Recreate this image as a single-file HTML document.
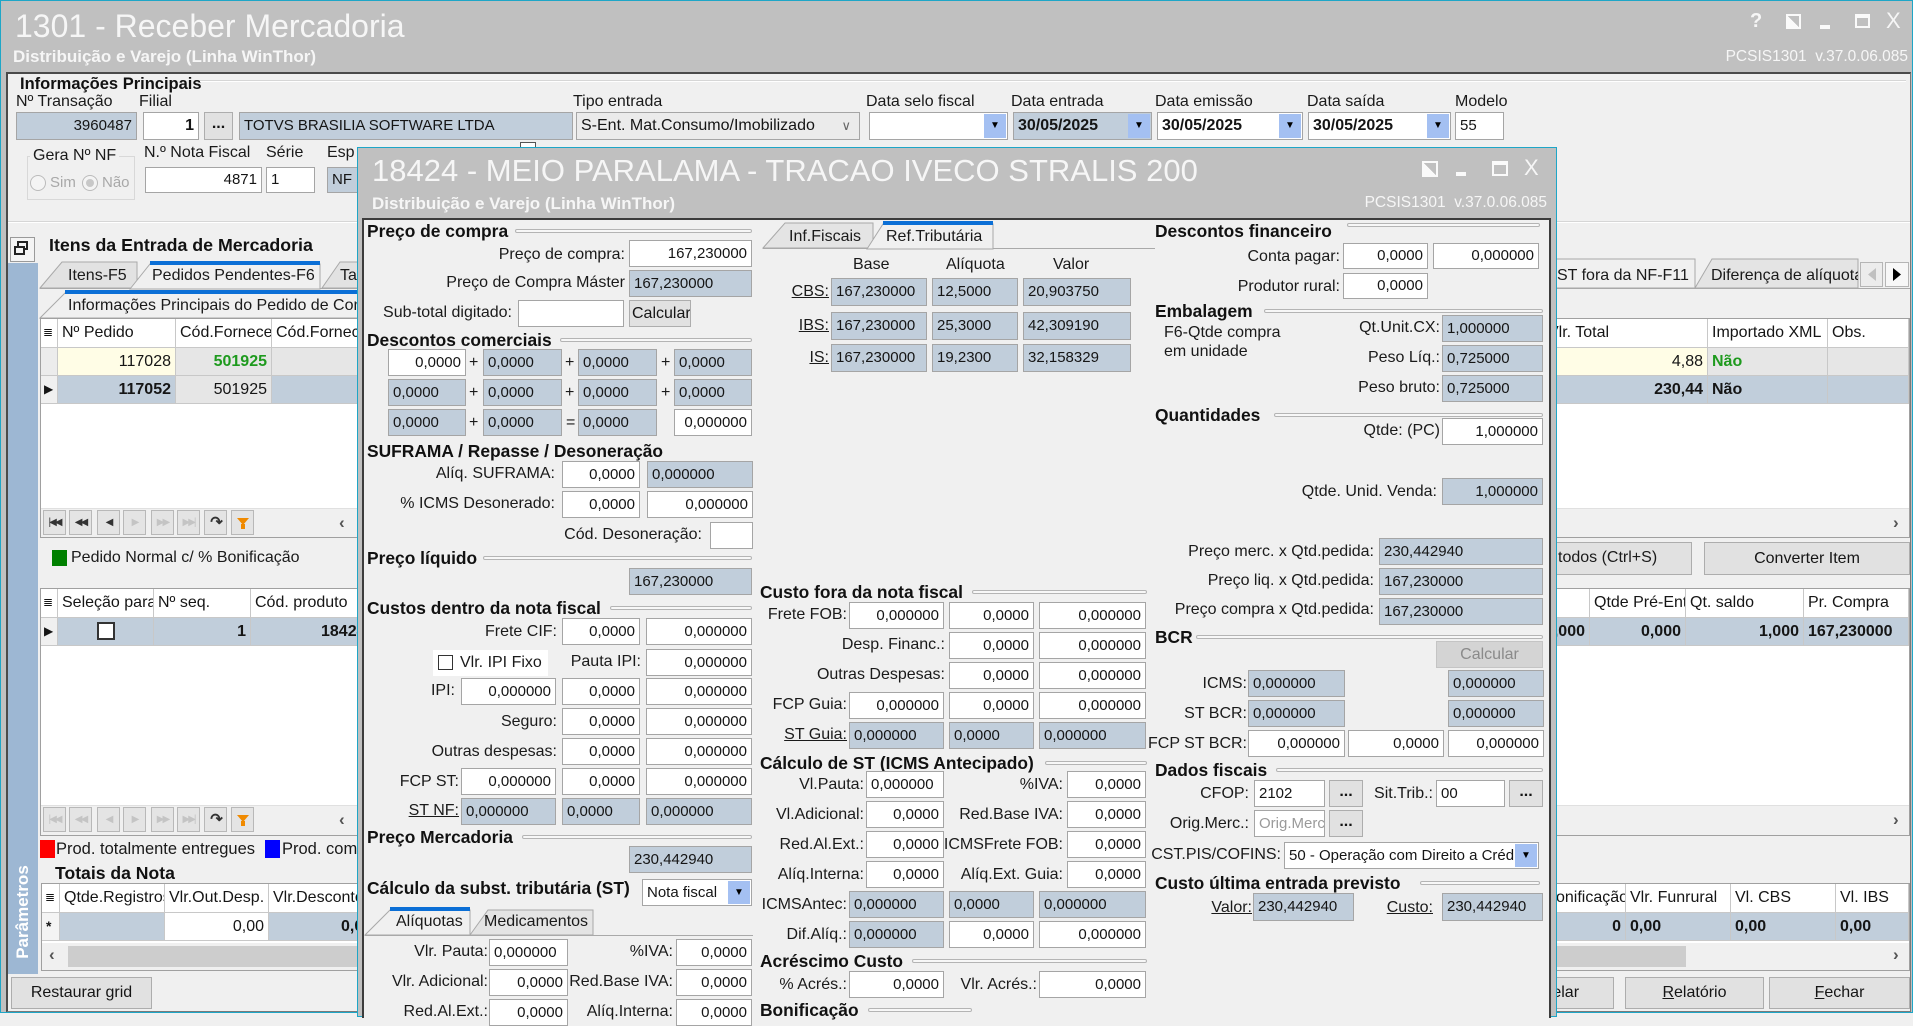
<!DOCTYPE html>
<html><head><meta charset="utf-8">
<style>
*{box-sizing:border-box}
body{margin:0;width:1913px;height:1013px;overflow:hidden;position:relative;background:#f0f0f0;font-family:"Liberation Sans",Arial,sans-serif;color:#151515}
.a{position:absolute}
.t{position:absolute;white-space:nowrap;font-size:16px;line-height:18px;color:#1a1a1a}
.h{position:absolute;white-space:nowrap;font-size:17.4px;font-weight:bold;line-height:18px;color:#111}
.gl{position:absolute;height:4px;border:1px solid #b4b4b4;border-radius:2px;background:#f7f7f7}
.f{position:absolute;height:27px;line-height:25px;border:1px solid #a5a5a5;background:#fff;font-size:15px;padding:0 4px;white-space:nowrap;overflow:hidden;text-align:right;color:#151515}
.b{background:#c1cedb;text-align:left}
.btn{position:absolute;border:1px solid #adadad;background:#e1e1e1;text-align:center;font-size:16px;white-space:nowrap;overflow:hidden;color:#151515}
.u{text-decoration:underline}
.dd{position:absolute;top:1px;bottom:1px;right:1px;width:22px;background:#a4c0f2;font-size:10px;line-height:24px;text-align:center;color:#000}
.cell{position:absolute;border-right:1px solid #c8c8c8;border-bottom:1px solid #c8c8c8;font-size:16px;white-space:nowrap;overflow:hidden;padding:0 4px}
.nb{position:absolute;width:23px;height:25px;border:1px solid #b8b8b8;background:#e4e4e4;font-size:10px;line-height:23px;text-align:center;color:#333;letter-spacing:-2px}
.nb.d{color:#c4c4c4}
.wt{color:#f6f6f6}
.ml{position:absolute;white-space:nowrap;font-size:16px;line-height:18px;color:#1a1a1a}
</style></head><body>

<!-- MAIN WINDOW -->
<div class="a" style="left:0;top:0;width:1913px;height:1013px;border:1px solid #1ea6c7;background:#c0c0c0"></div>
<div class="a wt" style="left:15px;top:8px;font-size:32px;line-height:36px;white-space:nowrap">1301 - Receber Mercadoria</div>
<div class="a wt" style="left:13px;top:47px;font-size:17px;font-weight:bold;line-height:19px;white-space:nowrap">Distribuição e Varejo (Linha WinThor)</div>
<div class="a wt" style="left:1750px;top:10px;font-size:20px;font-weight:bold">?</div>
<div class="a" style="left:1786px;top:14px;width:15px;height:15px;border:2px solid #fafafa;background:linear-gradient(to top right,#fafafa 50%,transparent 50%)"></div>
<div class="a" style="left:1820px;top:25px;width:10px;height:4px;background:#fafafa"></div>
<div class="a" style="left:1855px;top:14px;width:15px;height:14px;border:2px solid #fafafa;border-top-width:4px"></div>
<div class="a wt" style="left:1886px;top:8px;font-size:22px">X</div>
<div class="a wt" style="right:5px;top:48px;font-size:15.5px;line-height:17px;white-space:nowrap">PCSIS1301&nbsp; v.37.0.06.085</div>

<div class="a" style="left:6px;top:72px;width:1905px;height:940px;background:#f0f0f0;border-top:2px solid #4a4a4a;border-left:2px solid #4a4a4a;border-right:1px solid #7a7a7a;border-bottom:1px solid #7a7a7a"></div>

<!-- Informações principais -->
<div class="h" style="left:20px;top:75px;font-size:16.5px">Informações Principais</div>
<div class="a" style="left:200px;top:80px;width:1706px;height:2px;border-top:1px solid #d6d6d6;border-bottom:1px solid #fff"></div>
<div class="ml" style="left:16px;top:93px">Nº Transação</div>
<div class="ml" style="left:139px;top:93px">Filial</div>
<div class="ml" style="left:573px;top:93px">Tipo entrada</div>
<div class="ml" style="left:866px;top:93px">Data selo fiscal</div>
<div class="ml" style="left:1011px;top:93px">Data entrada</div>
<div class="ml" style="left:1155px;top:93px">Data emissão</div>
<div class="ml" style="left:1307px;top:93px">Data saída</div>
<div class="ml" style="left:1455px;top:93px">Modelo</div>

<div class="f b" style="left:16px;top:112px;width:121px;height:28px;line-height:26px;text-align:right">3960487</div>
<div class="f" style="left:143px;top:112px;width:56px;height:28px;line-height:26px;font-weight:bold;font-size:16px">1</div>
<div class="btn" style="left:204px;top:112px;width:29px;height:28px;line-height:22px;font-weight:bold">...</div>
<div class="f b" style="left:239px;top:112px;width:334px;height:28px;line-height:26px">TOTVS BRASILIA SOFTWARE LTDA</div>
<div class="f" style="left:576px;top:112px;width:284px;height:28px;line-height:26px;text-align:left;background:#ebebeb;font-size:16px">S-Ent. Mat.Consumo/Imobilizado<span class="a" style="right:8px;top:0;color:#666;font-size:13px">∨</span></div>
<div class="f" style="left:869px;top:112px;width:139px;height:28px"><div class="dd">▼</div></div>
<div class="f b" style="left:1013px;top:112px;width:139px;height:28px;line-height:26px;font-weight:bold;font-size:16px">30/05/2025<div class="dd">▼</div></div>
<div class="f" style="left:1157px;top:112px;width:146px;height:28px;line-height:26px;font-weight:bold;font-size:16px;text-align:left">30/05/2025<div class="dd">▼</div></div>
<div class="f" style="left:1308px;top:112px;width:143px;height:28px;line-height:26px;font-weight:bold;font-size:16px;text-align:left">30/05/2025<div class="dd">▼</div></div>
<div class="f" style="left:1455px;top:112px;width:49px;height:28px;line-height:26px;text-align:left">55</div>

<div class="a" style="left:27px;top:156px;width:108px;height:44px;border:1px solid #d8d8d8"></div>
<div class="ml" style="left:30px;top:147px;background:#f0f0f0;padding:0 3px">Gera Nº NF</div>
<div class="a" style="left:30px;top:175px;width:16px;height:16px;border:1px solid #bbb;border-radius:50%;background:#f4f4f4"></div>
<div class="t" style="left:50px;top:174px;font-size:15px;color:#a8a8a8">Sim</div>
<div class="a" style="left:82px;top:175px;width:16px;height:16px;border:1px solid #bbb;border-radius:50%;background:#f4f4f4"></div>
<div class="a" style="left:86px;top:179px;width:8px;height:8px;border-radius:50%;background:#c8c8c8"></div>
<div class="t" style="left:102px;top:174px;font-size:15px;color:#a8a8a8">Não</div>
<div class="ml" style="left:144px;top:144px">N.º Nota Fiscal</div>
<div class="ml" style="left:266px;top:144px">Série</div>
<div class="ml" style="left:327px;top:144px">Esp</div>
<div class="f" style="left:145px;top:167px;width:117px;height:26px;line-height:24px">4871</div>
<div class="f" style="left:266px;top:167px;width:49px;height:26px;line-height:24px;text-align:left">1</div>
<div class="f b" style="left:327px;top:167px;width:40px;height:26px;line-height:24px">NF</div>
<div class="a" style="left:520px;top:142px;width:16px;height:16px;border:1px solid #555;background:#fff"></div>

<div class="a" style="left:8px;top:221px;width:1902px;height:2px;border-top:1px solid #d6d6d6;border-bottom:1px solid #fff"></div>

<!-- Itens panel -->
<div class="a" style="left:10px;top:237px;width:25px;height:25px;border:1px solid #9a9a9a;background:#f4f4f4"></div>
<div class="a" style="left:17px;top:241px;width:11px;height:9px;border:2px solid #222"></div>
<div class="a" style="left:14px;top:246px;width:11px;height:9px;border:2px solid #222;background:#f4f4f4"></div>
<div class="h" style="left:49px;top:236px;font-size:17.8px">Itens da Entrada de Mercadoria</div>
<div class="a" style="left:8px;top:263px;width:30px;height:711px;background:#9db7d3"></div>
<div class="a" style="left:23px;top:912px;transform:translate(-50%,-50%) rotate(-90deg);color:#fff;font-weight:bold;font-size:17px;white-space:nowrap">Parâmetros</div>

<svg class="a" style="left:0;top:0" width="1913" height="340">
 <line x1="40" y1="288.5" x2="1910" y2="288.5" stroke="#a9a9a9"/>
 <polygon points="40,288 62,262 137,262 137,288" fill="#e2e2e2" stroke="#a9a9a9"/>
 <polygon points="130,289 150,264 320,264 320,289" fill="#f0f0f0" stroke="#a9a9a9"/>
 <rect x="150" y="261" width="170" height="4" fill="#0b6fd6"/>
 <polygon points="322,288 340,262 362,262 362,288" fill="#e2e2e2" stroke="#a9a9a9"/>
 <polygon points="40,318 65,293 362,293 362,318" fill="#f0f0f0" stroke="#a9a9a9"/>
 <rect x="65" y="290" width="297" height="4" fill="#0b6fd6"/>
 <polygon points="1540,288 1540,259 1695,259 1695,288" fill="#f0f0f0" stroke="#a9a9a9"/>
 <polygon points="1695,288 1712,259 1858,259 1858,288" fill="#e4e4e4" stroke="#a9a9a9"/>
 <rect x="1860.5" y="262.5" width="22" height="24" fill="#ececec" stroke="#b5b5b5"/>
 <rect x="1885.5" y="262.5" width="23" height="24" fill="#f7f7f7" stroke="#b5b5b5"/>
 <polygon points="1876,268 1876,281 1868,274.5" fill="#c0c0c0"/>
 <polygon points="1893,268 1893,281 1901,274.5" fill="#000"/>
</svg>
<div class="t" style="left:68px;top:267px">Itens-F5</div>
<div class="t" style="left:152px;top:267px">Pedidos Pendentes-F6</div>
<div class="t" style="left:340px;top:267px">Tab</div>
<div class="t" style="left:1557px;top:267px">ST fora da NF-F11</div>
<div class="a" style="left:1705px;top:262px;width:153px;height:24px;overflow:hidden"><div class="t" style="left:6px;top:5px">Diferença de alíquota</div></div>
<div class="t" style="left:68px;top:297px">Informações Principais do Pedido de Compra</div>

<!-- GRID 1 -->
<div class="a" style="left:40px;top:318px;width:1870px;height:220px;border:1px solid #a0a0a0;background:#fff"></div>
<div class="cell" style="left:41px;top:319px;width:17px;height:29px;line-height:27px;font-size:12px;padding:0 2px">≣</div>
<div class="cell" style="left:58px;top:319px;width:118px;height:29px;line-height:27px">Nº Pedido</div>
<div class="cell" style="left:176px;top:319px;width:96px;height:29px;line-height:27px">Cód.Fornecedor</div>
<div class="cell" style="left:272px;top:319px;width:100px;height:29px;line-height:27px">Cód.Fornecedor</div>
<div class="cell" style="left:1400px;top:319px;width:308px;height:29px;line-height:27px;padding-left:148px">Vlr. Total</div>
<div class="cell" style="left:1708px;top:319px;width:120px;height:29px;line-height:27px">Importado XML</div>
<div class="cell" style="left:1828px;top:319px;width:81px;height:29px;line-height:27px">Obs.</div>

<div class="cell" style="left:41px;top:348px;width:17px;height:28px;background:#ececec"></div>
<div class="cell" style="left:58px;top:348px;width:118px;height:28px;line-height:27px;background:#fffde6;text-align:right">117028</div>
<div class="cell" style="left:176px;top:348px;width:96px;height:28px;line-height:27px;background:#e6e6e6;text-align:right;color:#1e9a1e;font-weight:bold">501925</div>
<div class="cell" style="left:272px;top:348px;width:1128px;height:28px;background:#e6e6e6"></div>
<div class="cell" style="left:1400px;top:348px;width:308px;height:28px;line-height:27px;background:#fffde6;text-align:right">4,88</div>
<div class="cell" style="left:1708px;top:348px;width:120px;height:28px;line-height:27px;background:#e6e6e6;color:#1e9a1e;font-weight:bold">Não</div>
<div class="cell" style="left:1828px;top:348px;width:81px;height:28px;background:#e6e6e6"></div>

<div class="cell" style="left:41px;top:376px;width:17px;height:28px;line-height:27px;background:#f0f0f0;font-size:12px;padding:0 3px">▶</div>
<div class="cell" style="left:58px;top:376px;width:118px;height:28px;line-height:27px;background:#c1cedb;text-align:right;font-weight:bold">117052</div>
<div class="cell" style="left:176px;top:376px;width:96px;height:28px;line-height:27px;background:#e6e6e6;text-align:right">501925</div>
<div class="cell" style="left:272px;top:376px;width:1128px;height:28px;background:#c1cedb"></div>
<div class="cell" style="left:1400px;top:376px;width:308px;height:28px;line-height:27px;background:#c1cedb;text-align:right;font-weight:bold">230,44</div>
<div class="cell" style="left:1708px;top:376px;width:120px;height:28px;line-height:27px;background:#c1cedb;font-weight:bold">Não</div>
<div class="cell" style="left:1828px;top:376px;width:81px;height:28px;background:#c1cedb"></div>

<div class="a" style="left:41px;top:508px;width:1868px;height:29px;background:#f0f0f0;border-top:1px solid #e0e0e0"></div>
<div class="nb" style="left:43px;top:510px">|◀◀</div>
<div class="nb" style="left:69px;top:510px">◀◀</div>
<div class="nb" style="left:97px;top:510px">◀</div>
<div class="nb d" style="left:123px;top:510px">▶</div>
<div class="nb d" style="left:151px;top:510px">▶▶</div>
<div class="nb d" style="left:177px;top:510px">▶▶|</div>
<div class="nb" style="left:204px;top:510px;font-size:15px;font-weight:bold">↷</div>
<div class="nb" style="left:231px;top:510px"><div class="a" style="left:5px;top:7px;width:0;height:0;border-left:6px solid transparent;border-right:6px solid transparent;border-top:7px solid #f08a00"></div><div class="a" style="left:9px;top:13px;width:4px;height:5px;background:#f08a00"></div></div>
<div class="t" style="left:339px;top:514px;font-size:17px;font-weight:bold;color:#555">‹</div>
<div class="t" style="left:1893px;top:514px;font-size:17px;font-weight:bold;color:#555">›</div>

<div class="a" style="left:52px;top:550px;width:15px;height:16px;background:#008000"></div>
<div class="t" style="left:71px;top:549px">Pedido Normal c/ % Bonificação</div>
<div class="btn" style="left:1420px;top:542px;width:272px;height:33px"></div>
<div class="t" style="left:1558px;top:549px">todos (Ctrl+S)</div>
<div class="btn" style="left:1704px;top:542px;width:206px;height:33px;line-height:31px">Converter Item</div>

<!-- GRID 2 -->
<div class="a" style="left:40px;top:588px;width:1870px;height:248px;border:1px solid #a0a0a0;background:#fff"></div>
<div class="cell" style="left:41px;top:589px;width:17px;height:29px;line-height:27px;font-size:12px;padding:0 2px">≣</div>
<div class="cell" style="left:58px;top:589px;width:96px;height:29px;line-height:27px">Seleção para</div>
<div class="cell" style="left:154px;top:589px;width:97px;height:29px;line-height:27px">Nº seq.</div>
<div class="cell" style="left:251px;top:589px;width:120px;height:29px;line-height:27px">Cód. produto</div>
<div class="cell" style="left:1500px;top:589px;width:90px;height:29px"></div>
<div class="cell" style="left:1590px;top:589px;width:96px;height:29px;line-height:27px">Qtde Pré-Entrada</div>
<div class="cell" style="left:1686px;top:589px;width:118px;height:29px;line-height:27px">Qt. saldo</div>
<div class="cell" style="left:1804px;top:589px;width:105px;height:29px;line-height:27px">Pr. Compra</div>

<div class="cell" style="left:41px;top:618px;width:17px;height:28px;line-height:27px;background:#f0f0f0;font-size:12px;padding:0 3px">▶</div>
<div class="cell" style="left:58px;top:618px;width:96px;height:28px;background:#c1cedb"></div>
<div class="a" style="left:97px;top:622px;width:18px;height:18px;border:2px solid #333;background:#fff"></div>
<div class="cell" style="left:154px;top:618px;width:97px;height:28px;line-height:27px;background:#c1cedb;text-align:right;font-weight:bold">1</div>
<div class="cell" style="left:251px;top:618px;width:160px;height:28px;line-height:27px;background:#c1cedb;font-weight:bold;padding-left:70px">18424</div>
<div class="cell" style="left:1400px;top:618px;width:190px;height:28px;line-height:27px;background:#c1cedb;text-align:right;font-weight:bold">1,000</div>
<div class="cell" style="left:1590px;top:618px;width:96px;height:28px;line-height:27px;background:#c1cedb;text-align:right;font-weight:bold">0,000</div>
<div class="cell" style="left:1686px;top:618px;width:118px;height:28px;line-height:27px;background:#c1cedb;text-align:right;font-weight:bold">1,000</div>
<div class="cell" style="left:1804px;top:618px;width:105px;height:28px;line-height:27px;background:#c1cedb;font-weight:bold">167,230000</div>

<div class="a" style="left:41px;top:805px;width:1868px;height:30px;background:#f0f0f0;border-top:1px solid #e0e0e0"></div>
<div class="nb d" style="left:43px;top:807px">|◀◀</div>
<div class="nb d" style="left:69px;top:807px">◀◀</div>
<div class="nb d" style="left:97px;top:807px">◀</div>
<div class="nb d" style="left:123px;top:807px">▶</div>
<div class="nb d" style="left:151px;top:807px">▶▶</div>
<div class="nb d" style="left:177px;top:807px">▶▶|</div>
<div class="nb" style="left:204px;top:807px;font-size:15px;font-weight:bold">↷</div>
<div class="nb" style="left:231px;top:807px"><div class="a" style="left:5px;top:7px;width:0;height:0;border-left:6px solid transparent;border-right:6px solid transparent;border-top:7px solid #f08a00"></div><div class="a" style="left:9px;top:13px;width:4px;height:5px;background:#f08a00"></div></div>
<div class="t" style="left:339px;top:811px;font-size:17px;font-weight:bold;color:#555">‹</div>
<div class="t" style="left:1893px;top:811px;font-size:17px;font-weight:bold;color:#555">›</div>

<div class="a" style="left:40px;top:840px;width:15px;height:18px;background:#ff0000"></div>
<div class="t" style="left:56px;top:840px;font-size:16.5px">Prod. totalmente entregues</div>
<div class="a" style="left:265px;top:840px;width:15px;height:18px;background:#0000ff"></div>
<div class="t" style="left:282px;top:840px;font-size:16.5px">Prod. com</div>
<div class="h" style="left:55px;top:864px;font-size:17.6px">Totais da Nota</div>

<!-- GRID 3 -->
<div class="a" style="left:41px;top:883px;width:1869px;height:88px;border:1px solid #a0a0a0;background:#fff"></div>
<div class="cell" style="left:42px;top:884px;width:18px;height:29px;line-height:27px;font-size:12px;padding:0 3px">≣</div>
<div class="cell" style="left:60px;top:884px;width:105px;height:29px;line-height:27px">Qtde.Registros</div>
<div class="cell" style="left:165px;top:884px;width:104px;height:29px;line-height:27px">Vlr.Out.Desp.</div>
<div class="cell" style="left:269px;top:884px;width:120px;height:29px;line-height:27px">Vlr.Desconto</div>
<div class="cell" style="left:1500px;top:884px;width:126px;height:29px;line-height:27px;padding-left:56px">onificação</div>
<div class="cell" style="left:1626px;top:884px;width:105px;height:29px;line-height:27px">Vlr. Funrural</div>
<div class="cell" style="left:1731px;top:884px;width:105px;height:29px;line-height:27px">Vl. CBS</div>
<div class="cell" style="left:1836px;top:884px;width:73px;height:29px;line-height:27px">Vl. IBS</div>
<div class="cell" style="left:42px;top:913px;width:18px;height:28px;line-height:27px;background:#f4f4f4;font-size:14px;padding:0 4px;font-weight:bold">*</div>
<div class="cell" style="left:60px;top:913px;width:105px;height:28px;background:#c1cedb"></div>
<div class="cell" style="left:165px;top:913px;width:104px;height:28px;line-height:27px;text-align:right">0,00</div>
<div class="cell" style="left:269px;top:913px;width:120px;height:28px;line-height:27px;background:#c1cedb;font-weight:bold;padding-left:72px">0,00</div>
<div class="cell" style="left:1500px;top:913px;width:126px;height:28px;line-height:27px;background:#c1cedb;font-weight:bold;text-align:right">0</div>
<div class="cell" style="left:1626px;top:913px;width:105px;height:28px;line-height:27px;background:#c1cedb;font-weight:bold">0,00</div>
<div class="cell" style="left:1731px;top:913px;width:105px;height:28px;line-height:27px;background:#c1cedb;font-weight:bold">0,00</div>
<div class="cell" style="left:1836px;top:913px;width:73px;height:28px;line-height:27px;background:#c1cedb;font-weight:bold">0,00</div>
<div class="a" style="left:42px;top:943px;width:1867px;height:27px;background:#f0f0f0"></div>
<div class="a" style="left:68px;top:946px;width:1618px;height:21px;background:#cdcdcd"></div>
<div class="t" style="left:49px;top:946px;font-size:17px;font-weight:bold;color:#555">‹</div>
<div class="t" style="left:1893px;top:946px;font-size:17px;font-weight:bold;color:#555">›</div>

<div class="btn" style="left:11px;top:977px;width:141px;height:32px;line-height:30px">Restaurar grid</div>
<div class="btn" style="left:1480px;top:977px;width:134px;height:32px;line-height:30px">Cancelar</div>
<div class="btn" style="left:1625px;top:977px;width:139px;height:32px;line-height:30px"><span class="u">R</span>elatório</div>
<div class="btn" style="left:1769px;top:977px;width:141px;height:32px;line-height:30px"><span class="u">F</span>echar</div>

<!-- DIALOG -->
<div class="a" style="left:357px;top:147px;width:1200px;height:870px;border:1px solid #1ea6c7;background:#c0c0c0"></div>
<div class="a wt" style="left:372px;top:153px;font-size:31px;line-height:36px;white-space:nowrap">18424 - MEIO PARALAMA - TRACAO IVECO STRALIS 200</div>
<div class="a wt" style="left:372px;top:194px;font-size:17px;font-weight:bold;line-height:19px;white-space:nowrap">Distribuição e Varejo (Linha WinThor)</div>
<div class="a" style="left:1422px;top:161px;width:16px;height:16px;border:2px solid #fafafa;background:linear-gradient(to top right,#fafafa 50%,transparent 50%)"></div>
<div class="a" style="left:1456px;top:172px;width:10px;height:4px;background:#fafafa"></div>
<div class="a" style="left:1492px;top:161px;width:16px;height:15px;border:2px solid #fafafa;border-top-width:4px"></div>
<div class="a wt" style="left:1524px;top:155px;font-size:22px">X</div>
<div class="a wt" style="right:366px;top:194px;font-size:15.5px;line-height:17px;white-space:nowrap">PCSIS1301&nbsp; v.37.0.06.085</div>
<div class="a" style="left:362px;top:218px;width:1189px;height:800px;background:#f0f0f0;border-top:2px solid #3c3c3c;border-left:2px solid #3c3c3c;border-right:2px solid #3c3c3c"></div>

<!-- Left column -->
<div class="h" style="left:367px;top:222px">Preço de compra</div>
<div class="gl" style="left:515px;top:229px;width:237px"></div>
<div class="t" style="right:1288px;top:246px">Preço de compra:</div>
<div class="f" style="left:629px;top:240px;width:123px">167,230000</div>
<div class="t" style="right:1288px;top:274px">Preço de Compra Máster</div>
<div class="f b" style="left:629px;top:270px;width:123px">167,230000</div>
<div class="t" style="right:1401px;top:304px">Sub-total digitado:</div>
<div class="f" style="left:518px;top:300px;width:106px"></div>
<div class="btn" style="left:629px;top:300px;width:62px;height:27px;line-height:25px;text-align:left;padding-left:2px">Calcular</div>

<div class="h" style="left:367px;top:331px">Descontos comerciais</div>
<div class="gl" style="left:560px;top:338px;width:192px"></div>
<div class="f" style="left:388px;top:349px;width:78px">0,0000</div>
<div class="t" style="left:469px;top:354px">+</div>
<div class="f b" style="left:483px;top:349px;width:79px">0,0000</div>
<div class="t" style="left:565px;top:354px">+</div>
<div class="f b" style="left:578px;top:349px;width:79px">0,0000</div>
<div class="t" style="left:661px;top:354px">+</div>
<div class="f b" style="left:674px;top:349px;width:78px">0,0000</div>
<div class="f b" style="left:388px;top:379px;width:78px">0,0000</div>
<div class="t" style="left:469px;top:384px">+</div>
<div class="f b" style="left:483px;top:379px;width:79px">0,0000</div>
<div class="t" style="left:565px;top:384px">+</div>
<div class="f b" style="left:578px;top:379px;width:79px">0,0000</div>
<div class="t" style="left:661px;top:384px">+</div>
<div class="f b" style="left:674px;top:379px;width:78px">0,0000</div>
<div class="f b" style="left:388px;top:409px;width:78px">0,0000</div>
<div class="t" style="left:469px;top:414px">+</div>
<div class="f b" style="left:483px;top:409px;width:79px">0,0000</div>
<div class="t" style="left:566px;top:414px">=</div>
<div class="f b" style="left:578px;top:409px;width:79px">0,0000</div>
<div class="f" style="left:674px;top:409px;width:78px">0,000000</div>

<div class="h" style="left:367px;top:442px">SUFRAMA / Repasse / Desoneração</div>
<div class="t" style="right:1358px;top:465px">Alíq. SUFRAMA:</div>
<div class="f" style="left:562px;top:461px;width:78px">0,0000</div>
<div class="f b" style="left:647px;top:461px;width:106px">0,000000</div>
<div class="t" style="right:1358px;top:495px">% ICMS Desonerado:</div>
<div class="f" style="left:562px;top:491px;width:78px">0,0000</div>
<div class="f" style="left:647px;top:491px;width:106px">0,000000</div>
<div class="t" style="right:1211px;top:526px">Cód. Desoneração:</div>
<div class="f" style="left:710px;top:522px;width:43px"></div>

<div class="h" style="left:367px;top:549px">Preço líquido</div>
<div class="gl" style="left:483px;top:556px;width:269px"></div>
<div class="f b" style="left:629px;top:568px;width:123px">167,230000</div>

<div class="h" style="left:367px;top:599px">Custos dentro da nota fiscal</div>
<div class="gl" style="left:610px;top:606px;width:142px"></div>
<div class="t" style="right:1356px;top:623px">Frete CIF:</div>
<div class="f" style="left:562px;top:618px;width:78px">0,0000</div>
<div class="f" style="left:646px;top:618px;width:106px">0,000000</div>
<div class="a" style="left:433px;top:650px;width:115px;height:26px;background:#fff"></div>
<div class="a" style="left:438px;top:655px;width:15px;height:15px;border:1px solid #333;background:#fff"></div>
<div class="t" style="left:460px;top:654px">Vlr. IPI Fixo</div>
<div class="t" style="right:1272px;top:653px">Pauta IPI:</div>
<div class="f" style="left:646px;top:649px;width:106px">0,000000</div>
<div class="t" style="right:1458px;top:682px">IPI:</div>
<div class="f" style="left:461px;top:678px;width:95px">0,000000</div>
<div class="f" style="left:562px;top:678px;width:78px">0,0000</div>
<div class="f" style="left:646px;top:678px;width:106px">0,000000</div>
<div class="t" style="right:1356px;top:713px">Seguro:</div>
<div class="f" style="left:562px;top:708px;width:78px">0,0000</div>
<div class="f" style="left:646px;top:708px;width:106px">0,000000</div>
<div class="t" style="right:1356px;top:743px">Outras despesas:</div>
<div class="f" style="left:562px;top:738px;width:78px">0,0000</div>
<div class="f" style="left:646px;top:738px;width:106px">0,000000</div>
<div class="t" style="right:1454px;top:773px">FCP ST:</div>
<div class="f" style="left:461px;top:768px;width:95px">0,000000</div>
<div class="f" style="left:562px;top:768px;width:78px">0,0000</div>
<div class="f" style="left:646px;top:768px;width:106px">0,000000</div>
<div class="t u" style="right:1454px;top:802px">ST NF:</div>
<div class="f b" style="left:461px;top:798px;width:95px">0,000000</div>
<div class="f b" style="left:562px;top:798px;width:78px">0,0000</div>
<div class="f b" style="left:646px;top:798px;width:106px">0,000000</div>

<div class="h" style="left:367px;top:828px">Preço Mercadoria</div>
<div class="gl" style="left:522px;top:835px;width:230px"></div>
<div class="f b" style="left:629px;top:846px;width:123px">230,442940</div>

<div class="h" style="left:367px;top:879px">Cálculo da subst. tributária (ST)</div>
<div class="f" style="left:642px;top:879px;width:110px;text-align:left">Nota fiscal<div class="dd">▼</div></div>
<svg class="a" style="left:360px;top:900px" width="400" height="40">
 <line x1="5" y1="35.5" x2="393" y2="35.5" stroke="#a9a9a9"/>
 <polygon points="5,35 30,10 110,10 110,35" fill="#f0f0f0" stroke="#a9a9a9"/>
 <rect x="30" y="7" width="80" height="4" fill="#0b6fd6"/>
 <polygon points="110,35 128,10 233,10 233,35" fill="#e4e4e4" stroke="#a9a9a9"/>
</svg>
<div class="t" style="left:396px;top:913px">Alíquotas</div>
<div class="t" style="left:484px;top:913px">Medicamentos</div>
<div class="t" style="right:1425px;top:943px">Vlr. Pauta:</div>
<div class="f" style="left:489px;top:939px;width:79px;text-align:left">0,000000</div>
<div class="t" style="right:1240px;top:943px">%IVA:</div>
<div class="f" style="left:676px;top:939px;width:76px">0,0000</div>
<div class="t" style="right:1425px;top:973px">Vlr. Adicional:</div>
<div class="f" style="left:489px;top:969px;width:79px">0,0000</div>
<div class="t" style="right:1240px;top:973px">Red.Base IVA:</div>
<div class="f" style="left:676px;top:969px;width:76px">0,0000</div>
<div class="t" style="right:1425px;top:1003px">Red.Al.Ext.:</div>
<div class="f" style="left:489px;top:999px;width:79px">0,0000</div>
<div class="t" style="right:1240px;top:1003px">Alíq.Interna:</div>
<div class="f" style="left:676px;top:999px;width:76px">0,0000</div>

<!-- Middle column -->
<svg class="a" style="left:755px;top:215px" width="405" height="40">
 <line x1="8" y1="33.5" x2="400" y2="33.5" stroke="#a9a9a9"/>
 <polygon points="8,33 30,8 118,8 118,33" fill="#e4e4e4" stroke="#a9a9a9"/>
 <polygon points="112,34 128,9 238,9 238,34" fill="#f0f0f0" stroke="#a9a9a9"/>
 <rect x="128" y="6" width="110" height="4" fill="#0b6fd6"/>
</svg>
<div class="t" style="left:789px;top:228px">Inf.Fiscais</div>
<div class="t" style="left:886px;top:228px">Ref.Tributária</div>
<div class="t" style="left:853px;top:256px">Base</div>
<div class="t" style="left:946px;top:256px">Alíquota</div>
<div class="t" style="left:1053px;top:256px">Valor</div>
<div class="t u" style="right:1084px;top:283px">CBS:</div>
<div class="f b" style="left:831px;top:278px;width:96px;height:28px">167,230000</div>
<div class="f b" style="left:932px;top:278px;width:86px;height:28px">12,5000</div>
<div class="f b" style="left:1023px;top:278px;width:108px;height:28px">20,903750</div>
<div class="t u" style="right:1084px;top:317px">IBS:</div>
<div class="f b" style="left:831px;top:312px;width:96px;height:28px">167,230000</div>
<div class="f b" style="left:932px;top:312px;width:86px;height:28px">25,3000</div>
<div class="f b" style="left:1023px;top:312px;width:108px;height:28px">42,309190</div>
<div class="t u" style="right:1084px;top:349px">IS:</div>
<div class="f b" style="left:831px;top:344px;width:96px;height:28px">167,230000</div>
<div class="f b" style="left:932px;top:344px;width:86px;height:28px">19,2300</div>
<div class="f b" style="left:1023px;top:344px;width:108px;height:28px">32,158329</div>

<div class="h" style="left:760px;top:583px">Custo fora da nota fiscal</div>
<div class="gl" style="left:972px;top:590px;width:175px"></div>
<div class="t" style="right:1066px;top:606px">Frete FOB:</div>
<div class="f" style="left:849px;top:602px;width:95px">0,000000</div>
<div class="f" style="left:949px;top:602px;width:85px">0,0000</div>
<div class="f" style="left:1039px;top:602px;width:107px">0,000000</div>
<div class="t" style="right:968px;top:636px">Desp. Financ.:</div>
<div class="f" style="left:949px;top:632px;width:85px">0,0000</div>
<div class="f" style="left:1039px;top:632px;width:107px">0,000000</div>
<div class="t" style="right:968px;top:666px">Outras Despesas:</div>
<div class="f" style="left:949px;top:662px;width:85px">0,0000</div>
<div class="f" style="left:1039px;top:662px;width:107px">0,000000</div>
<div class="t" style="right:1066px;top:696px">FCP Guia:</div>
<div class="f" style="left:849px;top:692px;width:95px">0,000000</div>
<div class="f" style="left:949px;top:692px;width:85px">0,0000</div>
<div class="f" style="left:1039px;top:692px;width:107px">0,000000</div>
<div class="t u" style="right:1066px;top:726px">ST Guia:</div>
<div class="f b" style="left:849px;top:722px;width:95px">0,000000</div>
<div class="f b" style="left:949px;top:722px;width:85px">0,0000</div>
<div class="f b" style="left:1039px;top:722px;width:107px">0,000000</div>

<div class="h" style="left:760px;top:754px">Cálculo de ST (ICMS Antecipado)</div>
<div class="gl" style="left:1045px;top:761px;width:102px"></div>
<div class="t" style="right:1049px;top:776px">Vl.Pauta:</div>
<div class="f" style="left:866px;top:771px;width:78px;text-align:left">0,000000</div>
<div class="t" style="right:850px;top:776px">%IVA:</div>
<div class="f" style="left:1067px;top:771px;width:79px">0,0000</div>
<div class="t" style="right:1049px;top:806px">Vl.Adicional:</div>
<div class="f" style="left:866px;top:801px;width:78px">0,0000</div>
<div class="t" style="right:850px;top:806px">Red.Base IVA:</div>
<div class="f" style="left:1067px;top:801px;width:79px">0,0000</div>
<div class="t" style="right:1049px;top:836px">Red.Al.Ext.:</div>
<div class="f" style="left:866px;top:831px;width:78px">0,0000</div>
<div class="t" style="right:850px;top:836px">ICMSFrete FOB:</div>
<div class="f" style="left:1067px;top:831px;width:79px">0,0000</div>
<div class="t" style="right:1049px;top:866px">Alíq.Interna:</div>
<div class="f" style="left:866px;top:861px;width:78px">0,0000</div>
<div class="t" style="right:850px;top:866px">Alíq.Ext. Guia:</div>
<div class="f" style="left:1067px;top:861px;width:79px">0,0000</div>
<div class="t" style="right:1066px;top:896px">ICMSAntec:</div>
<div class="f b" style="left:849px;top:891px;width:95px">0,000000</div>
<div class="f b" style="left:949px;top:891px;width:85px">0,0000</div>
<div class="f b" style="left:1039px;top:891px;width:107px">0,000000</div>
<div class="t" style="right:1066px;top:926px">Dif.Alíq.:</div>
<div class="f b" style="left:849px;top:921px;width:95px">0,000000</div>
<div class="f" style="left:949px;top:921px;width:85px">0,0000</div>
<div class="f" style="left:1039px;top:921px;width:107px">0,000000</div>

<div class="h" style="left:760px;top:952px">Acréscimo Custo</div>
<div class="gl" style="left:912px;top:959px;width:235px"></div>
<div class="t" style="right:1066px;top:976px">% Acrés.:</div>
<div class="f" style="left:849px;top:971px;width:95px">0,0000</div>
<div class="t" style="right:876px;top:976px">Vlr. Acrés.:</div>
<div class="f" style="left:1039px;top:971px;width:107px">0,0000</div>
<div class="h" style="left:760px;top:1001px">Bonificação</div>
<div class="gl" style="left:868px;top:1008px;width:104px"></div>

<!-- Right column -->
<div class="h" style="left:1155px;top:222px">Descontos financeiro</div>
<div class="gl" style="left:1347px;top:223px;width:193px"></div>
<div class="t" style="right:573px;top:248px">Conta pagar:</div>
<div class="f" style="left:1343px;top:243px;width:85px;height:26px;line-height:24px">0,0000</div>
<div class="f" style="left:1433px;top:243px;width:106px;height:26px;line-height:24px">0,000000</div>
<div class="t" style="right:573px;top:278px">Produtor rural:</div>
<div class="f" style="left:1343px;top:273px;width:85px;height:26px;line-height:24px">0,0000</div>

<div class="h" style="left:1155px;top:302px">Embalagem</div>
<div class="gl" style="left:1264px;top:309px;width:279px"></div>
<div class="t" style="left:1164px;top:324px">F6-Qtde compra</div>
<div class="t" style="left:1164px;top:343px">em unidade</div>
<div class="t" style="right:473px;top:319px">Qt.Unit.CX:</div>
<div class="f b" style="left:1442px;top:315px;width:101px">1,000000</div>
<div class="t" style="right:473px;top:349px">Peso Líq.:</div>
<div class="f b" style="left:1442px;top:345px;width:101px">0,725000</div>
<div class="t" style="right:473px;top:379px">Peso bruto:</div>
<div class="f b" style="left:1442px;top:375px;width:101px">0,725000</div>

<div class="h" style="left:1155px;top:406px">Quantidades</div>
<div class="gl" style="left:1274px;top:413px;width:269px"></div>
<div class="t" style="right:473px;top:422px">Qtde: (PC)</div>
<div class="f" style="left:1442px;top:418px;width:101px">1,000000</div>
<div class="t" style="right:476px;top:483px">Qtde. Unid. Venda:</div>
<div class="f b" style="left:1442px;top:478px;width:101px;text-align:right">1,000000</div>
<div class="t" style="right:539px;top:543px">Preço merc. x Qtd.pedida:</div>
<div class="f b" style="left:1379px;top:538px;width:164px">230,442940</div>
<div class="t" style="right:539px;top:572px">Preço liq. x Qtd.pedida:</div>
<div class="f b" style="left:1379px;top:568px;width:164px">167,230000</div>
<div class="t" style="right:539px;top:601px">Preço compra x Qtd.pedida:</div>
<div class="f b" style="left:1379px;top:598px;width:164px">167,230000</div>

<div class="h" style="left:1155px;top:628px">BCR</div>
<div class="gl" style="left:1196px;top:635px;width:347px"></div>
<div class="btn" style="left:1436px;top:641px;width:107px;height:27px;line-height:25px;background:#d4d4d4;border-color:#c4c4c4;color:#8a8a8a">Calcular</div>
<div class="t" style="right:666px;top:675px">ICMS:</div>
<div class="f b" style="left:1248px;top:670px;width:97px">0,000000</div>
<div class="f b" style="left:1448px;top:670px;width:96px">0,000000</div>
<div class="t" style="right:666px;top:705px">ST BCR:</div>
<div class="f b" style="left:1248px;top:700px;width:97px">0,000000</div>
<div class="f b" style="left:1448px;top:700px;width:96px">0,000000</div>
<div class="t" style="right:666px;top:735px">FCP ST BCR:</div>
<div class="f" style="left:1248px;top:730px;width:97px">0,000000</div>
<div class="f" style="left:1348px;top:730px;width:96px">0,0000</div>
<div class="f" style="left:1448px;top:730px;width:96px">0,000000</div>

<div class="h" style="left:1155px;top:761px">Dados fiscais</div>
<div class="gl" style="left:1276px;top:768px;width:267px"></div>
<div class="t" style="right:664px;top:785px">CFOP:</div>
<div class="f" style="left:1254px;top:780px;width:71px;text-align:left">2102</div>
<div class="btn" style="left:1329px;top:780px;width:34px;height:27px;line-height:22px;font-weight:bold">...</div>
<div class="t" style="right:480px;top:785px">Sit.Trib.:</div>
<div class="f" style="left:1436px;top:780px;width:69px;text-align:left">00</div>
<div class="btn" style="left:1509px;top:780px;width:34px;height:27px;line-height:22px;font-weight:bold">...</div>
<div class="t" style="right:664px;top:815px">Orig.Merc.:</div>
<div class="f" style="left:1254px;top:810px;width:71px;text-align:left;color:#9a9a9a">Orig.Merc</div>
<div class="btn" style="left:1329px;top:810px;width:34px;height:27px;line-height:22px;font-weight:bold">...</div>
<div class="t" style="right:632px;top:846px">CST.PIS/COFINS:</div>
<div class="f" style="left:1284px;top:842px;width:255px;text-align:left"><div class="a" style="left:4px;top:0;width:225px;overflow:hidden">50 - Operação com Direito a Crédito</div><div class="dd">▼</div></div>

<div class="h" style="left:1155px;top:874px">Custo última entrada previsto</div>
<div class="gl" style="left:1420px;top:881px;width:120px"></div>
<div class="t u" style="right:661px;top:899px">Valor:</div>
<div class="f b" style="left:1253px;top:893px;width:101px;height:28px">230,442940</div>
<div class="t u" style="right:480px;top:899px">Custo:</div>
<div class="f b" style="left:1442px;top:893px;width:101px;height:28px">230,442940</div>

</body></html>
